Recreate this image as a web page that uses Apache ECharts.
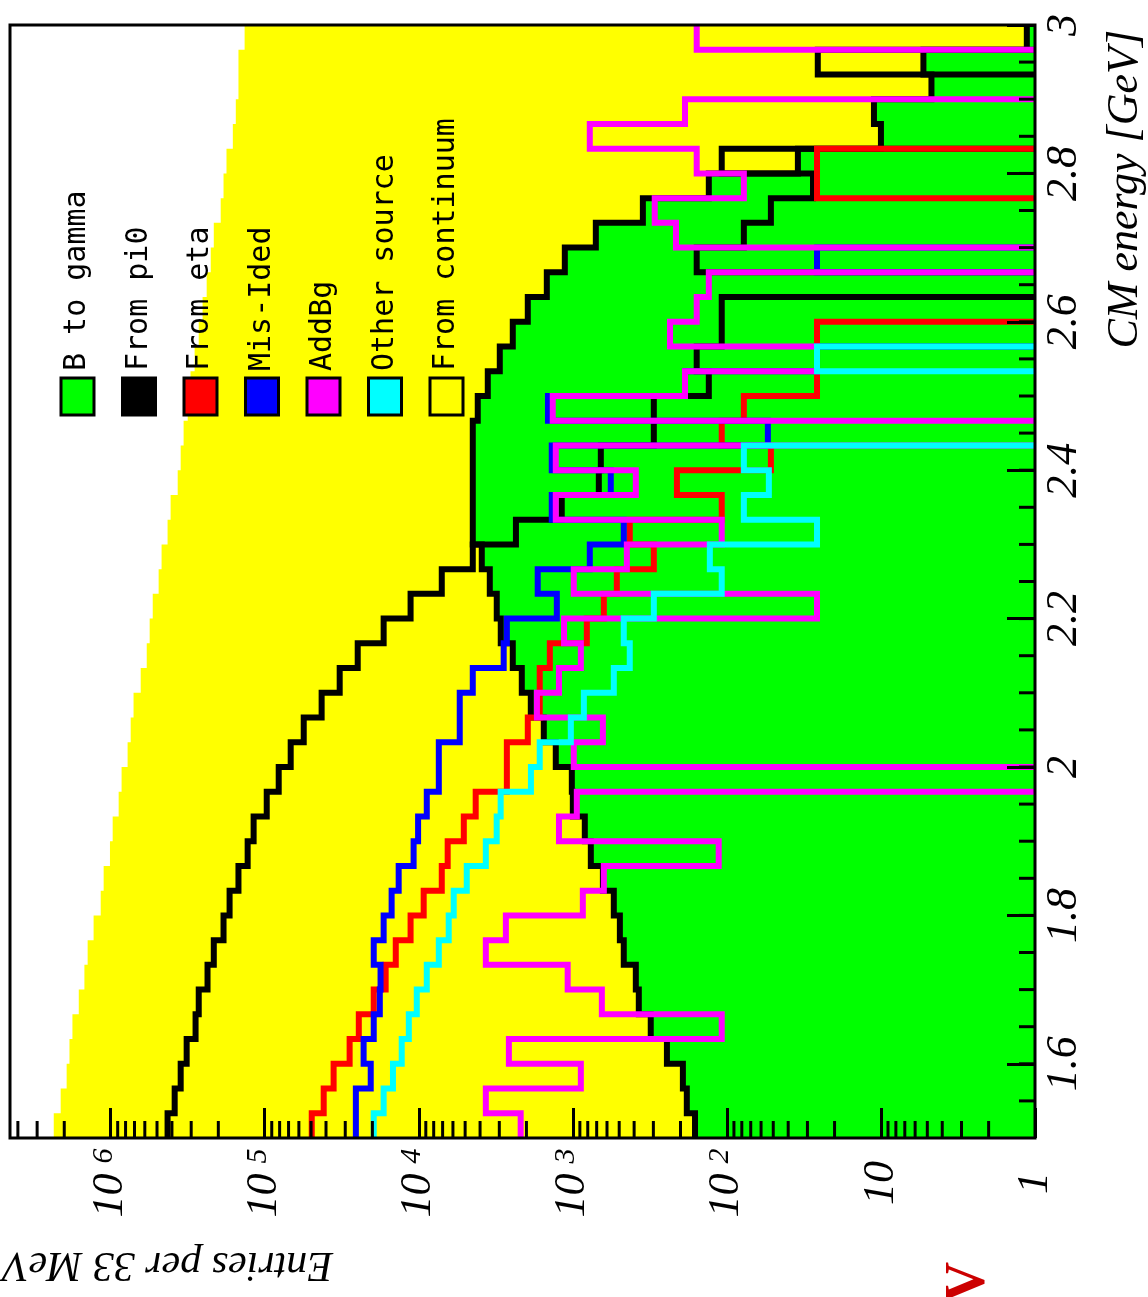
<!DOCTYPE html>
<html>
<head>
<meta charset="utf-8">
<script src="https://cdn.jsdelivr.net/npm/echarts@6/dist/echarts.min.js"></script>
<style>
html,body{margin:0;padding:0;background:#ffffff;}
#chart{width:1148px;height:1297px;}
</style>
</head>
<body>
<div id="chart"></div>
<script>
// ---------------- data ----------------
// 45 bins of 33 MeV between 1.5 and 3.0 GeV (CM energy)
const E_MIN = 1.5, E_MAX = 3.0, NBINS = 45;
const binEdges = Array.from({length: NBINS + 1}, (_, i) => +(E_MIN + i * (E_MAX - E_MIN) / NBINS).toFixed(6));

// Entries per 33 MeV, one value per bin (low energy first)
const fromContinuum = [2.34e6, 2.11e6, 1.93e6, 1.85e6, 1.77e6, 1.61e6, 1.48e6, 1.41e6, 1.29e6, 1.16e6,
  1.11e6, 1.01e6, 9.7e5, 8.87e5, 8.49e5, 7.76e5, 7.41e5, 7.10e5, 6.38e5, 5.83e5,
  5.58e5, 5.33e5, 4.88e5, 4.67e5, 4.27e5, 4.08e5, 3.67e5, 3.51e5, 3.36e5, 3.16e5,
  3.03e5, 2.85e5, 2.68e5, 2.53e5, 2.38e5, 2.24e5, 2.14e5, 1.93e5, 1.85e5, 1.77e5,
  1.61e5, 1.54e5, 1.48e5, 1.48e5, 1.35e5];
const bToGamma = [161, 182, 193, 245, 312, 373, 390, 467, 495, 542,
  638, 764, 836, 1000, 1015, 1290, 1543, 1874, 2144, 2453,
  2936, 3117, 3459, 3899, 4460, 4460, 4460, 4460, 4460, 4140,
  3564, 2979, 2453, 1960, 1475, 1127, 709, 351, 131, 34.6,
  10.0, 11.1, 4.7, 5.3, 1.13];
const fromPi0 = [4.27e5, 3.84e5, 3.51e5, 3.21e5, 2.81e5, 2.68e5, 2.35e5, 2.14e5, 1.85e5, 1.69e5,
  1.48e5, 1.29e5, 1.18e5, 9.7e4, 8.11e4, 6.78e4, 5.58e4, 4.27e4, 3.26e4, 2.49e4,
  1.69e4, 1.13e4, 7090, 4460, 2340, 1180, 678, 658, 298, 298,
  131, 157, 108, 108, 0, 157, 77.6, 51.8, 27.6, 108,
  0, 0, 0, 25.7, 0];
const fromEta = [4.95e4, 4.14e4, 3.57e4, 2.81e4, 2.45e4, 1.96e4, 1.64e4, 1.41e4, 1.13e4, 9290,
  7090, 6490, 5100, 4270, 2680, 2680, 1960, 1640, 1640, 1410,
  811, 629, 518, 298, 427, 108, 211, 51.8, 108, 77.6,
  26, 26, 26, 0, 0, 0, 0, 0, 26, 26,
  0, 0, 0, 0, 0];
const misIded = [2.56e4, 2.56e4, 2.05e4, 2.28e4, 1.96e4, 1.79e4, 1.77e4, 1.96e4, 1.69e4, 1.50e4,
  1.35e4, 1.08e4, 1.01e4, 8870, 7410, 7410, 5420, 5420, 4460, 2810,
  2680, 1270, 1690, 776, 467, 1370, 567, 1370, 54.2, 1450,
  187, 26, 0, 0, 0, 26, 0, 0, 0, 0,
  0, 0, 0, 0, 0];
const addBg = [2180, 3670, 887, 2600, 108, 648, 1080, 3670, 2720, 861,
  629, 113, 1230, 942, 0, 986, 638, 1710, 1230, 887,
  1140, 26, 986, 446, 108, 1290, 390, 1290, 0, 1350,
  187, 26, 234, 157, 131, 0, 214, 294, 77.6, 157,
  776, 187, 0, 0, 157];
const otherSource = [1.96e4, 1.69e4, 1.47e4, 1.29e4, 1.16e4, 1.03e4, 8870, 7410, 6390, 5930,
  4880, 3670, 3120, 2940, 1870, 1640, 1030, 848, 542, 427,
  467, 298, 108, 129, 26, 77.6, 53.4, 77.6, 0, 0,
  0, 26, 0, 0, 0, 0, 0, 0, 0, 0,
  0, 0, 0, 0, 0];

// legend
const legendNames = ['B to gamma', 'From pi0', 'From eta', 'Mis-Ided', 'AddBg', 'Other source', 'From continuum'];
const legendColors = ['#00ff00', '#000000', '#ff0000', '#0000ff', '#ff00ff', '#00ffff', 'none'];

// tick labels of the count axis: base and exponent per decade
const countTickBase = ['1', '10', '10', '10', '10', '10', '10'];
const countTickExp = ['', '', '2', '3', '4', '5', '6'];
const COUNT_MIN = 1, COUNT_MAX = 4.5e6;

// minor tick positions
const logMinorTicks = [];
for (let k = 0; k <= 6; k++) for (let m = 2; m <= 9; m++) { const v = m * Math.pow(10, k); if (v < COUNT_MAX) logMinorTicks.push(v); }
const energyMinorTicks = [];
for (let i = 1; i < 30; i++) energyMinorTicks.push(+(E_MIN + i * 0.05).toFixed(4));

// ---------------- helpers ----------------
const FLOOR = 0.3; // empty bins drop below the axis minimum (clipped)
function stepPoints(api, vals, closed) {
  const pts = [];
  const v = x => (x > 0 ? x : FLOOR);
  if (closed) pts.push(api.coord([FLOOR, binEdges[0]]));
  for (let i = 0; i < vals.length; i++) {
    pts.push(api.coord([v(vals[i]), binEdges[i]]));
    pts.push(api.coord([v(vals[i]), binEdges[i + 1]]));
  }
  if (closed) pts.push(api.coord([FLOOR, binEdges[NBINS]]));
  return pts;
}
function fillSeries(name, vals, color) {
  return {
    name, type: 'custom', clip: true, silent: true, z: 2, data: [[1, 2]],
    renderItem: (p, api) => ({type: 'polygon', shape: {points: stepPoints(api, vals, true)}, style: {fill: color, stroke: 'none'}})
  };
}
function lineSeries(name, vals, color) {
  return {
    name, type: 'custom', clip: true, silent: true, z: 3, data: [[1, 2]],
    renderItem: (p, api) => ({type: 'polyline', shape: {points: stepPoints(api, vals, false)},
      style: {stroke: color, lineWidth: 6, fill: 'none', lineJoin: 'miter', lineCap: 'butt'}})
  };
}

const serif = '"Liberation Serif", "Times New Roman", serif';

// legend graphics
const graphics = [];
legendNames.forEach((n, k) => {
  const cx = 77.5 + 61.5 * k;
  graphics.push({type: 'rect', z: 30, shape: {x: cx - 16.5, y: 378, width: 33, height: 37},
    style: {fill: legendColors[k], stroke: '#000', lineWidth: 3}});
  graphics.push({type: 'text', z: 30, x: cx, y: 371, rotation: Math.PI / 2,
    style: {text: n, font: '30px "DejaVu Sans Mono", monospace', fill: '#000', align: 'left', verticalAlign: 'middle'}});
});
graphics.push({type: 'text', z: 30, x: 1103, y: 30, rotation: Math.PI / 2,
  style: {text: 'CM energy [GeV]', font: 'italic 44px ' + serif, fill: '#000', align: 'right', verticalAlign: 'top'}});
graphics.push({type: 'text', z: 30, x: 333, y: 1285, rotation: Math.PI,
  style: {text: 'Entries per 33 MeV', font: 'italic 42px ' + serif, fill: '#000', align: 'left', verticalAlign: 'top'}});
graphics.push({type: 'text', z: 30, x: 970, y: 1282, rotation: Math.PI / 2,
  style: {text: 'V', font: 'bold 56px ' + serif, fill: '#cc0000', align: 'center', verticalAlign: 'middle'}});

const chart = echarts.init(document.getElementById('chart'), null, {renderer: 'canvas'});
chart.setOption({
  backgroundColor: '#ffffff',
  animation: false,
  grid: {left: 10, top: 25, right: 113, bottom: 159, show: true, z: 5, backgroundColor: 'transparent', borderColor: '#000', borderWidth: 3},
  xAxis: {
    type: 'log', logBase: 10, inverse: true, min: COUNT_MIN, max: COUNT_MAX, position: 'bottom', z: 6,
    axisLine: {show: false}, splitLine: {show: false},
    axisTick: {show: true, inside: true, length: 30, lineStyle: {color: '#000', width: 3}},
    axisLabel: {
      show: true, rotate: 90, margin: 45, align: 'center', verticalAlign: 'middle', showMaxLabel: false, showMinLabel: true,
      formatter: v => {
        const k = Math.round(Math.log10(v));
        if (k < 0 || k > 6) return '';
        return countTickExp[k] ? '{n|' + countTickBase[k] + '}{s|' + countTickExp[k] + '}' : '{n|' + countTickBase[k] + '}';
      },
      rich: {
        n: {fontSize: 44, fontFamily: serif, fontStyle: 'italic', color: '#000', lineHeight: 44, verticalAlign: 'bottom'},
        s: {fontSize: 30, fontFamily: serif, fontStyle: 'italic', color: '#000', lineHeight: 30, verticalAlign: 'top', padding: [0, 0, 22, 10]}
      }
    }
  },
  yAxis: {
    type: 'value', min: E_MIN, max: E_MAX, splitNumber: 7, position: 'right', z: 6,
    axisLine: {show: false}, splitLine: {show: false},
    axisTick: {show: true, inside: true, length: 28, lineStyle: {color: '#000', width: 3}},
    axisLabel: {rotate: 90, margin: 7, showMinLabel: false, fontSize: 44, fontFamily: serif, fontStyle: 'italic', color: '#000'}
  },
  graphic: graphics,
  series: [
    fillSeries('From continuum', fromContinuum, '#ffff00'),
    fillSeries('B to gamma', bToGamma, '#00ff00'),
    lineSeries('B to gamma outline', bToGamma, '#000000'),
    lineSeries('From pi0', fromPi0, '#000000'),
    lineSeries('From eta', fromEta, '#ff0000'),
    lineSeries('Mis-Ided', misIded, '#0000ff'),
    lineSeries('AddBg', addBg, '#ff00ff'),
    lineSeries('Other source', otherSource, '#00ffff'),
    {
      name: 'minor ticks', type: 'custom', clip: false, silent: true, z: 8, data: [[1, 2]],
      renderItem: (p, api) => {
        const children = [];
        logMinorTicks.forEach(v => {
          const a = api.coord([v, E_MIN]);
          children.push({type: 'line', shape: {x1: a[0], y1: a[1], x2: a[0], y2: a[1] - 17}, style: {stroke: '#000', lineWidth: 3}});
        });
        energyMinorTicks.forEach(e => {
          const a = api.coord([COUNT_MIN, e]);
          children.push({type: 'line', shape: {x1: a[0], y1: a[1], x2: a[0] - 16, y2: a[1]}, style: {stroke: '#000', lineWidth: 3}});
        });
        return {type: 'group', children};
      }
    }
  ]
});
</script>
</body>
</html>
